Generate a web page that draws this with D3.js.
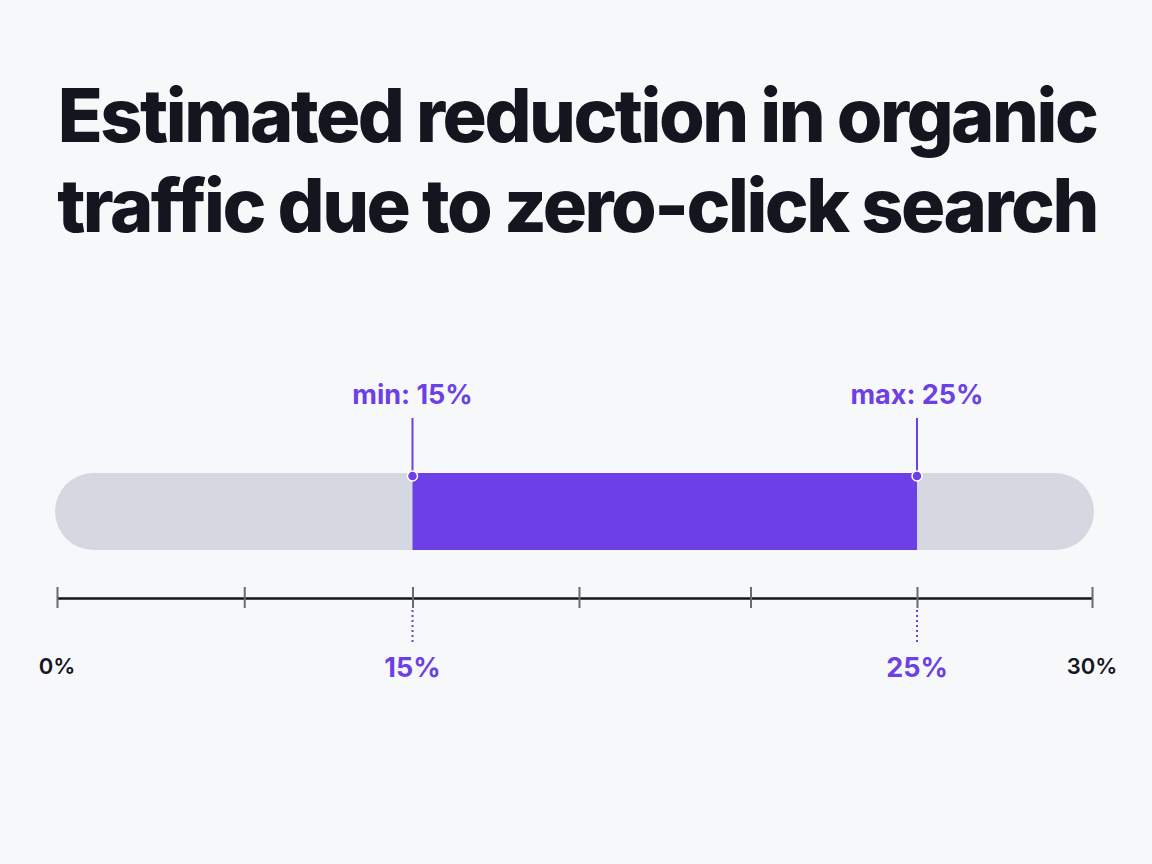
<!DOCTYPE html>
<html>
<head>
<meta charset="utf-8">
<script src="https://cdn.jsdelivr.net/npm/d3@7"></script>
<style>
  body { margin: 0; background: #f7f8fa; }
  svg { display: block; font-family: Inter, "Noto Sans", sans-serif; }
</style>
</head>
<body>
<svg id="chart" width="1152" height="864"></svg>
<script>
const titleLines = ["Estimated reduction in organic", "traffic due to zero-click search"];
const rangeMin = 15;
const rangeMax = 25;
const domainMin = 0;
const domainMax = 30;
// tick marks as drawn on the axis (uneven spacing in the picture)
const axisTicks = [0, 7.9, 15, 18.3, 21.7, 25, 30];
const endLabels = [{ value: 0, label: "0%" }, { value: 30, label: "30%" }];
const markers = [
  { value: rangeMin, tag: "min: 15%", label: "15%" },
  { value: rangeMax, tag: "max: 25%", label: "25%" }
];

const purple = "#6c3fe7";
const track = "#d5d8e0";
const ink = "#14151f";

const svg = d3.select("#chart");

// title
const title = svg.append("g")
  .attr("font-weight", 800)
  .attr("fill", ink)
  .attr("text-anchor", "middle");

title.selectAll("text")
  .data(titleLines)
  .enter()
  .append("text")
  .attr("x", 577)
  .attr("y", (d, i) => 142 + i * 90)
  .style("font-size", "75px")
  .style("letter-spacing", "0px")
  .text(d => d);

// tighten tracking so the first line spans ~1040px like the reference
const first = title.select("text");
const w0 = first.node().getComputedTextLength();
const ls = Math.max(-2.5, (1040 - w0) / (titleLines[0].length - 1));
title.selectAll("text").style("letter-spacing", ls + "px");
const w1 = first.node().getComputedTextLength();
if (w1 > 1040) title.selectAll("text").style("font-size", (75 * 1040 / w1) + "px");

// piecewise scale so the labelled values land where the picture puts them
const x = d3.scaleLinear()
  .domain([domainMin, rangeMin, rangeMax, domainMax])
  .range([57, 412.5, 917, 1092]);

const barTop = 473, barH = 77;

svg.append("rect")
  .attr("x", x(domainMin) - 2)
  .attr("y", barTop)
  .attr("width", x(domainMax) - x(domainMin) + 4)
  .attr("height", barH)
  .attr("rx", barH / 2)
  .attr("fill", track);

svg.append("rect")
  .attr("x", x(rangeMin))
  .attr("y", barTop)
  .attr("width", x(rangeMax) - x(rangeMin))
  .attr("height", barH)
  .attr("fill", purple);

// stems, dots and tags
const mk = svg.append("g").selectAll("g")
  .data(markers)
  .enter()
  .append("g");

mk.append("line")
  .attr("x1", d => x(d.value))
  .attr("x2", d => x(d.value))
  .attr("y1", 418)
  .attr("y2", barTop + 3)
  .attr("stroke", purple)
  .attr("stroke-width", 2);

mk.append("circle")
  .attr("cx", d => x(d.value))
  .attr("cy", barTop + 3)
  .attr("r", 5)
  .attr("fill", purple)
  .attr("stroke", "#fff")
  .attr("stroke-width", 1.5);

mk.append("text")
  .attr("x", d => x(d.value))
  .attr("y", 404)
  .attr("text-anchor", "middle")
  .attr("fill", purple)
  .attr("font-weight", 700)
  .style("font-size", "27px")
  .text(d => d.tag);

// axis
const axisY = 598;
const axis = svg.append("g")
  .attr("transform", `translate(0,${axisY})`)
  .call(d3.axisBottom(x).tickValues(axisTicks).tickFormat("").tickSizeOuter(0).tickSizeInner(10));

axis.select(".domain")
  .attr("stroke", "#15161d")
  .attr("stroke-width", 2.5);

axis.selectAll(".tick line")
  .attr("y1", -11)
  .attr("y2", 10)
  .attr("stroke", "#676b74")
  .attr("stroke-width", 2);

// dotted guides under min/max
mk.append("line")
  .attr("x1", d => x(d.value))
  .attr("x2", d => x(d.value))
  .attr("y1", axisY + 12)
  .attr("y2", 644)
  .attr("stroke", purple)
  .attr("stroke-width", 2)
  .attr("stroke-dasharray", "2,3");

mk.append("text")
  .attr("x", d => x(d.value))
  .attr("y", 677)
  .attr("text-anchor", "middle")
  .attr("fill", purple)
  .attr("font-weight", 700)
  .style("font-size", "27px")
  .text(d => d.label);

svg.append("g").selectAll("text")
  .data(endLabels)
  .enter()
  .append("text")
  .attr("x", d => x(d.value))
  .attr("y", 674)
  .attr("text-anchor", "middle")
  .attr("fill", ink)
  .attr("font-weight", 600)
  .style("font-size", "22px")
  .text(d => d.label);
</script>
</body>
</html>
